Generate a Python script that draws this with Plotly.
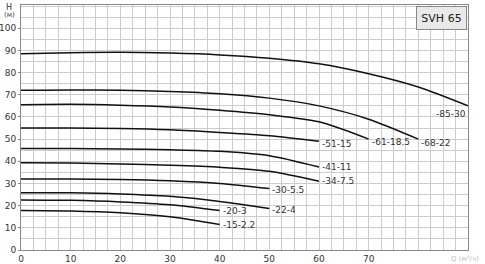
import plotly.graph_objects as go

# Flow (m3/h) and head (m) readings for each pump curve
x_85_30 = [0, 10, 20, 30, 40, 50, 60, 70, 80, 90]
y_85_30 = [88.5, 89.0, 89.2, 88.8, 88.0, 86.5, 84.0, 79.5, 73.5, 65.0]

x_68_22 = [0, 10, 20, 30, 40, 50, 60, 70, 80]
y_68_22 = [72.0, 72.2, 72.0, 71.5, 70.5, 68.5, 65.0, 59.0, 50.0]

x_61_185 = [0, 10, 20, 30, 40, 50, 60, 70]
y_61_185 = [65.5, 65.7, 65.3, 64.5, 63.0, 61.0, 57.8, 50.0]

x_51_15 = [0, 10, 20, 30, 40, 50, 60]
y_51_15 = [55.0, 55.0, 54.8, 54.2, 53.0, 51.5, 49.0]

x_41_11 = [0, 10, 20, 30, 40, 50, 60]
y_41_11 = [45.8, 45.8, 45.6, 45.2, 44.5, 42.5, 37.4]

x_34_75 = [0, 10, 20, 30, 40, 50, 60]
y_34_75 = [39.3, 39.2, 38.8, 38.2, 37.3, 35.5, 31.0]

x_30_55 = [0, 10, 20, 30, 40, 50]
y_30_55 = [32.0, 32.0, 31.8, 31.2, 30.0, 27.7]

x_22_4 = [0, 10, 20, 30, 40, 50]
y_22_4 = [25.8, 25.8, 25.3, 24.2, 21.9, 18.7]

x_20_3 = [0, 10, 20, 30, 40]
y_20_3 = [22.6, 22.4, 21.7, 20.4, 17.8]

x_15_22 = [0, 10, 20, 30, 40]
y_15_22 = [17.8, 17.6, 16.8, 15.0, 11.5]

curves = [
    ("-85-30", x_85_30, y_85_30, "right", "top", 0, -1),
    ("-68-22", x_68_22, y_68_22, "left", "middle", 1, -4),
    ("-61-18.5", x_61_185, y_61_185, "left", "middle", 1, -3),
    ("-51-15", x_51_15, y_51_15, "left", "middle", 1, -3),
    ("-41-11", x_41_11, y_41_11, "left", "middle", 1, 0),
    ("-34-7.5", x_34_75, y_34_75, "left", "middle", 1, 0),
    ("-30-5.5", x_30_55, y_30_55, "left", "middle", 1, -1),
    ("-22-4", x_22_4, y_22_4, "left", "middle", 1, -1),
    ("-20-3", x_20_3, y_20_3, "left", "middle", 1, 0),
    ("-15-2.2", x_15_22, y_15_22, "left", "middle", 1, 0),
]

x_ticks = [0, 10, 20, 30, 40, 50, 60, 70]
y_ticks = [0, 10, 20, 30, 40, 50, 60, 70, 80, 90, 100]

FONT = "DejaVu Sans"

fig = go.Figure()
annotations = []
for name, xs, ys, xa, ya, xs_shift, ys_shift in curves:
    fig.add_trace(go.Scatter(x=xs, y=ys, mode="lines",
                             line=dict(color="#111111", width=1.5, shape="spline", smoothing=0.8),
                             showlegend=False, hoverinfo="skip"))
    annotations.append(dict(x=xs[-1], y=ys[-1], text=name, showarrow=False,
                            xanchor=xa, yanchor=ya, xshift=xs_shift, yshift=ys_shift,
                            font=dict(family=FONT, size=9, color="#333333")))

annotations += [
    dict(xref="paper", yref="paper", x=-0.026, y=1.018, text="H", showarrow=False,
         xanchor="center", yanchor="top", font=dict(family=FONT, size=8, color="#333")),
    dict(xref="paper", yref="paper", x=-0.026, y=0.985, text="(м)", showarrow=False,
         xanchor="center", yanchor="top", font=dict(family=FONT, size=7, color="#333")),
    dict(xref="paper", yref="paper", x=1.03, y=-0.012, text="Q (м³/ч)", showarrow=False,
         xanchor="right", yanchor="top", font=dict(family=FONT, size=7, color="#bbbbbb")),
    dict(xref="paper", yref="paper", x=0.998, y=0.995, text="SVH 65", showarrow=False,
         xanchor="right", yanchor="top", bgcolor="#e9e9e9", bordercolor="#888888", borderwidth=1,
         borderpad=3, width=43, height=16,
         font=dict(family=FONT, size=11, color="#222222")),
]

axis_common = dict(showline=True, linecolor="#888888", linewidth=1, mirror=True,
                   gridcolor="#cccccc", gridwidth=1, zeroline=False, automargin=False)

fig.update_layout(
    width=485, height=264,
    margin=dict(l=21, r=17, t=5, b=14),
    paper_bgcolor="white", plot_bgcolor="white",
    xaxis=dict(range=[0, 90], tickvals=x_ticks, showgrid=True,
               ticks="", ticklabelstandoff=0,
               tickfont=dict(family=FONT, size=9, color="#333333"),
               minor=dict(dtick=2.5, tick0=0, showgrid=True, gridcolor="#cccccc"),
               **axis_common),
    yaxis=dict(range=[0, 110.5], tickvals=y_ticks, showgrid=True,
               ticks="outside", ticklen=2, tickcolor="#888888", ticklabelstandoff=0,
               tickfont=dict(family=FONT, size=9, color="#333333"),
               minor=dict(dtick=5, tick0=0, showgrid=True, gridcolor="#cccccc"),
               **axis_common),
    annotations=annotations,
)

fig.write_html("out.html")
